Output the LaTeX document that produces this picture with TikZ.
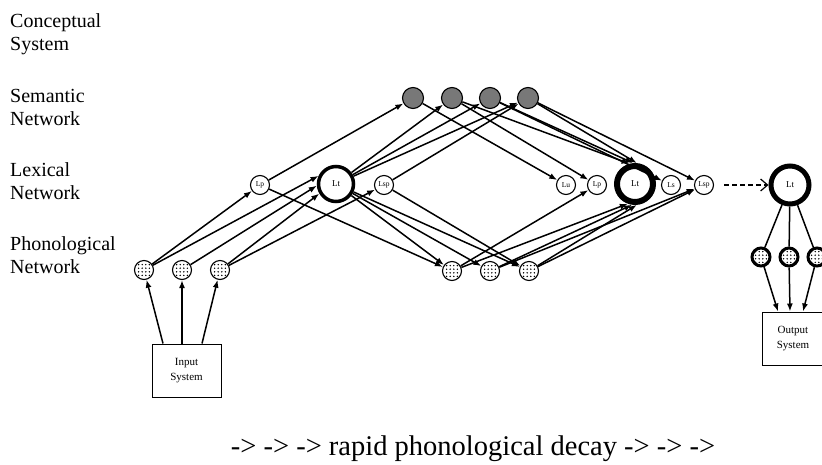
\documentclass[tikz,border=0pt]{standalone}
\usepackage{fontspec}
\setmainfont{Liberation Serif}
\usetikzlibrary{arrows.meta,calc}
\definecolor{semgray}{RGB}{120,120,120}
\begin{document}
\begin{tikzpicture}[x=1pt,y=-1pt,
  lbl/.style={anchor=base west, align=left, font=\fontsize{20}{23}\selectfont, inner sep=0pt},
  lex/.style={circle, draw, line width=1.1pt, minimum size=19pt, inner sep=0pt, fill=white, font=\fontsize{7.5}{8}\selectfont},
  ltA/.style={circle, draw, line width=3.5pt, minimum size=35pt, inner sep=0pt, fill=white, font=\fontsize{9}{10}\selectfont},
  ltB/.style={circle, draw, line width=6pt, minimum size=36pt, inner sep=0pt, fill=white, font=\fontsize{9}{10}\selectfont},
  ltC/.style={circle, draw, line width=5pt, minimum size=38pt, inner sep=0pt, fill=white, font=\fontsize{9}{10}\selectfont},
  dotgrid/.style={path picture={\foreach \i in {-1.5,-0.5,0.5,1.5}{\foreach \j in {-1.5,-0.5,0.5,1.5}{\fill[black] ([shift={(\i*3.6pt,\j*3.6pt)}]path picture bounding box.center) circle[radius=0.8pt];}}}},
  phon/.style={circle, draw, line width=1.1pt, minimum size=19pt, inner sep=0pt, fill=white, dotgrid},
  phonB/.style={circle, draw, line width=3pt, minimum size=18pt, inner sep=0pt, fill=white, dotgrid},
  sem/.style={circle, draw, line width=1.1pt, minimum size=21pt, inner sep=0pt, fill=semgray},
  sysbox/.style={rectangle, draw, line width=1pt, align=center, inner sep=0pt, font=\fontsize{11}{15}\selectfont},
  conn/.style={line width=1.5pt, -{Latex[length=8pt,width=6pt]}},
  plain/.style={line width=1.5pt}
]
\useasboundingbox (0,0) rectangle (822,464);
% side labels (anchored at the baseline of the last line)
\node[lbl] (cs) at (10,50) {Conceptual\\System};
\node[lbl] (sn) at (10,125) {Semantic\\Network};
\node[lbl] (ln) at (10,199) {Lexical\\Network};
\node[lbl] (pn) at (10,273) {Phonological\\Network};
% input side
\node[sysbox, minimum width=69pt, minimum height=53pt] (inp) at (186.5,370.5) {Input\\System};
\node[phon] (pl1) at (144,270) {};
\node[phon] (pl2) at (182,270) {};
\node[phon] (pl3) at (220,270) {};
% left lexical
\node[lex] (lp1) at (260,185) {Lp};
\node[ltA] (lt1) at (336,184) {Lt};
\node[lex] (lsp1) at (384,185) {Lsp};
% semantic
\node[sem] (s1) at (413,98) {};
\node[sem] (s2) at (452,98) {};
\node[sem] (s3) at (490,98) {};
\node[sem] (s4) at (528,98) {};
% middle phonological
\node[phon] (pm1) at (452,271) {};
\node[phon] (pm2) at (490,271) {};
\node[phon] (pm3) at (529,271) {};
% right lexical
\node[lex] (lu) at (566,185) {Lu};
\node[lex] (lp2) at (597,185) {Lp};
\node[ltB] (lt2) at (635,184) {Lt};
\node[lex] (ls) at (671,185) {Ls};
\node[lex] (lsp2) at (704,185) {Lsp};
% output side
\node[ltC] (lt3) at (790,185) {Lt};
\node[phonB] (pr1) at (761,257) {};
\node[phonB] (pr2) at (789,257) {};
\node[phonB] (pr3) at (817,257) {};
\node[sysbox, minimum width=62pt, minimum height=53pt] (outp) at (793,338.5) {Output\\System};
% bottom caption
\node[anchor=base, font=\fontsize{28.5}{32}\selectfont, inner sep=0pt] (cap) at (473,455) {-> -> -> rapid phonological decay -> -> ->};

% input -> phonology
\draw[conn] ([xshift=-23.5pt]inp.north) -- (pl1);
\draw[conn] ([xshift=-4.5pt]inp.north) -- (pl2);
\draw[conn] ([xshift=15.5pt]inp.north) -- (pl3);
% phonology -> left lexical
\draw[conn] (pl1) -- (lp1);
\draw[conn] (pl1) -- (lt1.155);
\draw[conn] (pl2) -- (lt1.185);
\draw[conn] (pl3) -- (lt1.210);
\draw[conn] (pl3) -- (lsp1);
% left lexical -> semantic
\draw[conn] (lp1) -- (s1);
\draw[conn] (lt1) -- (s2);
\draw[conn] (lt1) -- (s3);
\draw[conn] (lt1) -- (s4);
\draw[conn] (lsp1) -- (s4);
% left lexical -> middle phonology
\draw[conn] (lp1) -- (pm1);
\draw[conn] (lt1) -- (pm1);
\draw[conn] (lt1) -- (pm2);
\draw[conn] (lt1) -- (pm3);
\draw[conn] (lsp1) -- (pm3);
% semantic -> right lexical
\draw[conn] (s1) -- (lu);
\draw[conn] (s2) -- (lp2);
\draw[conn] (s2) -- (lt2.105);
\draw[conn] (s3) -- (lt2.95);
\draw[conn] (s3) -- (ls);
\draw[conn] (s4) -- (lt2.85);
\draw[conn] (s4) -- (lsp2);
% middle phonology -> right lexical
\draw[conn] (pm1) -- (lp2);
\draw[conn] (pm1) -- (lt2.250);
\draw[conn] (pm2) -- (lt2.262);
\draw[conn] (pm2) -- (lsp2);
\draw[conn] (pm3) -- (lt2.275);
\draw[conn] (pm3) -- (lsp2);
% to output
\draw[line width=1.2pt, dash pattern=on 5pt off 3pt, shorten <=10pt, -{Straight Barb[length=7pt,width=12pt,line width=1.2pt]}] (lsp2) -- (lt3);
\draw[plain] (lt3) -- (pr1);
\draw[plain] (lt3) -- (pr2);
\draw[plain] (lt3) -- (pr3);
\draw[conn] (pr1) -- ([xshift=-15pt]outp.north);
\draw[conn] (pr2) -- ([xshift=-3pt]outp.north);
\draw[conn] (pr3) -- ([xshift=10pt]outp.north);
\end{tikzpicture}
\end{document}
